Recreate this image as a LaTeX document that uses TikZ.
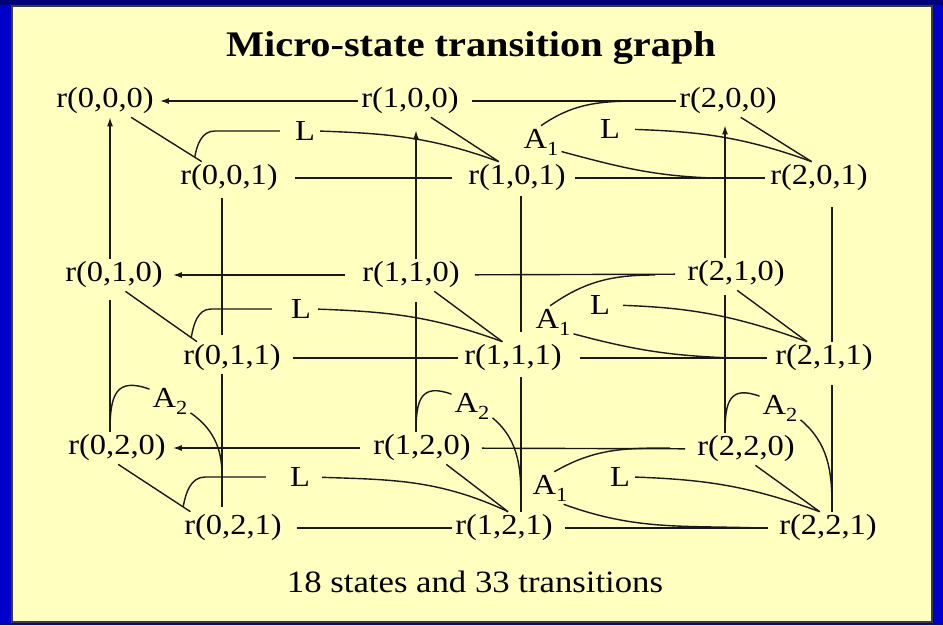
\documentclass[tikz,border=0pt]{standalone}
\usepackage{fontspec}
\setmainfont{Liberation Serif}[FakeStretch=1.12]
\usetikzlibrary{arrows.meta,calc}
\definecolor{slideblue}{RGB}{0,0,200}
\definecolor{slidenavy}{RGB}{0,0,120}
\definecolor{panelyellow}{RGB}{255,255,192}
\definecolor{panelrim}{RGB}{60,60,60}
\definecolor{ink}{RGB}{25,25,25}
\newcommand{\lsub}[1]{\raisebox{-7pt}{\fontsize{20}{20}\selectfont #1}}

\begin{document}
\begin{tikzpicture}[x=1pt,y=-1pt,>={Latex[length=9pt,width=6pt]},
        mstate/.style={font=\fontsize{29}{32}\selectfont,inner sep=3pt},
        tlabel/.style={font=\fontsize{29}{32}\selectfont,inner sep=3pt}]
    \fill[slideblue] (0,0) rectangle (943,625); \fill[slidenavy] (0,0) rectangle (943,5);
    \draw[line width=2pt, draw=panelrim, fill=panelyellow] (12,6) rectangle (932,622);
    \node[font=\bfseries\fontsize{36}{40}\selectfont] (title) at (471,48) {Micro-state transition graph};
    \node[font=\fontsize{31}{34}\selectfont] (foot) at (475,582) {18 states and 33 transitions};

    \node[mstate] (s000) at (105,101) {r(0,0,0)}; \node[mstate] (s100) at (410,101) {r(1,0,0)}; \node[mstate] (s200) at (728,101) {r(2,0,0)};
    \node[mstate] (s001) at (229,178) {r(0,0,1)}; \node[mstate] (s101) at (517,178) {r(1,0,1)}; \node[mstate] (s201) at (819,178) {r(2,0,1)};
    \node[mstate] (s010) at (114,275) {r(0,1,0)}; \node[mstate] (s110) at (411,275) {r(1,1,0)}; \node[mstate] (s210) at (736,274) {r(2,1,0)};
    \node[mstate] (s011) at (232,358) {r(0,1,1)}; \node[mstate] (s111) at (513,358) {r(1,1,1)}; \node[mstate] (s211) at (824,358) {r(2,1,1)};
    \node[mstate] (s020) at (117,448) {r(0,2,0)}; \node[mstate] (s120) at (422,448) {r(1,2,0)}; \node[mstate] (s220) at (746,449) {r(2,2,0)};
    \node[mstate] (s021) at (233,528) {r(0,2,1)}; \node[mstate] (s121) at (504,528) {r(1,2,1)}; \node[mstate] (s221) at (828,528) {r(2,2,1)};

    \node[tlabel] (Lt0) at (305,131) {L}; \node[tlabel] (Lt1) at (610,129) {L}; \node[tlabel] (At1) at (541,142) {A\lsub{1}};
    \node[tlabel] (Lm0) at (301,309) {L}; \node[tlabel] (Lm1) at (600,305) {L}; \node[tlabel] (Am1) at (553,322) {A\lsub{1}};
    \node[tlabel] (Lb0) at (300,477) {L}; \node[tlabel] (Lb1) at (620,477) {L}; \node[tlabel] (Ab1) at (550,488) {A\lsub{1}};
    \node[tlabel] (A2a) at (170,401) {A\lsub{2}}; \node[tlabel] (A2b) at (472,406) {A\lsub{2}}; \node[tlabel] (A2c) at (780,408) {A\lsub{2}};

    \coordinate (c0) at (110,0); \coordinate (c1) at (416,0); \coordinate (c2) at (725,0);
    \coordinate (e0) at (222,0); \coordinate (e1) at (521,0); \coordinate (e2) at (832,0);
    \coordinate (jt0) at (645,101); \coordinate (jt1) at (713,178); \coordinate (jm0) at (655,275); \coordinate (jm1) at (733,358); \coordinate (jb0) at (670,448); \coordinate (jb1) at (760,528);
    \coordinate (ja0) at (222,475); \coordinate (ja1) at (521,508); \coordinate (ja2) at (832,507);
    \coordinate (h0) at ($(s000.-32)!.9!(s001.149)$); \coordinate (h1) at ($(s010.-55)!.92!(s011.155)$); \coordinate (h2) at ($(s020.-86)!.9!(s021.159)$);

    \begin{scope}[line width=1.4pt, draw=ink]
        \draw[->, shorten >=3pt] (s100) -- (s000); \draw[shorten <=10pt] (s100) -- (s200); \draw[shorten <=14pt, shorten >=13pt] (s001) -- (s101); \draw[shorten <=6pt, shorten >=2pt] (s101) -- (s201);
        \draw[->, shorten <=14pt, shorten >=7pt] (s110) -- (s010); \draw[shorten <=12pt, shorten >=9pt] (s110) -- (s210); \draw[shorten <=9pt, shorten >=3pt] (s011) -- (s111); \draw[shorten <=15pt, shorten >=5pt] (s111) -- (s211);
        \draw[->, shorten <=10pt, shorten >=4pt] (s120) -- (s020); \draw[shorten <=8pt, shorten >=9pt] (s120) -- (s220); \draw[shorten <=12pt] (s021) -- (s121); \draw[shorten <=9pt, shorten >=8pt] (s121) -- (s221);

        \draw[->] (s010.north -| c0) -- (s000.south -| c0); \draw[shorten <=9pt] (s010.south -| c0) -- (s020.north -| c0);
        \draw[->, shorten >=13pt] (s110.north -| c1) -- (s100.south -| c1); \draw[shorten <=11pt] (s110.south -| c1) -- (s120.north -| c1);
        \draw[->, shorten >=8pt] (s210.north -| c2) -- (s200.south -| c2); \draw[shorten <=5pt] (s210.south -| c2) -- (s220.north -| c2);
        \draw[shorten <=4pt, shorten >=7pt] (s001.south -| e0) -- (s011.north -| e0); \draw[shorten >=5pt] (s011.south -| e0) -- (s021.north -| e0);
        \draw[shorten <=2pt, shorten >=10pt] (s101.south -| e1) -- (s111.north -| e1); \draw[shorten <=3pt] (s111.south -| e1) -- (s121.north -| e1);
        \draw[shorten <=13pt] (s201.south -| e2) -- (s211.north -| e2); \draw[shorten <=11pt] (s211.south -| e2) -- (s221.north -| e2);

        \draw (s000.-32) -- (s001.149); \draw (s100.-38) -- (s101.138); \draw (s200.-52) -- (s201.114);
        \draw (s010.-55) -- (s011.155); \draw (s110.-35) -- (s111.123); \draw (s210.-86) -- (s211.136);
        \draw (s020.-86) -- (s021.159); \draw (s120.-34) -- (s121.76); \draw (s220.-60) -- (s221.117);

        \draw[shorten <=12pt] (Lt0.west) -- ([xshift=20pt]h0 |- Lt0.west) to[out=180,in=80] (h0); \draw[shorten <=2pt] (Lt0.east) to[out=-2,in=160] (s101.138); \draw[shorten <=12pt] (Lt1.east) to[out=-2,in=160] (s201.114);
        \draw[shorten <=16pt] (Lm0.west) -- ([xshift=20pt]h1 |- Lm0.west) to[out=180,in=80] (h1); \draw[shorten <=4pt] (Lm0.east) to[out=-2,in=160] (s111.123); \draw[shorten <=10pt] (Lm1.east) to[out=-2,in=160] (s211.136);
        \draw[shorten <=21pt] (Lb0.west) -- ([xshift=22pt]h2 |- Lb0.west) to[out=180,in=80] (h2); \draw[shorten <=9pt] (Lb0.east) to[out=-2,in=155] (s121.76); \draw[shorten <=2pt] (Lb1.east) to[out=-2,in=160] (s221.117);

        \draw (At1.north) to[out=35,in=180] (jt0); \draw (At1.-25) to[out=-15,in=178] (jt1);
        \draw (Am1.100) to[out=35,in=180] (jm0); \draw (Am1.-30) to[out=-15,in=178] (jm1);
        \draw (Ab1.75) to[out=30,in=180] (jb0); \draw (Ab1.-50) to[out=-20,in=178] (jb1);

        \draw (s020.north -| c0) to[out=90,in=160,looseness=1.6] (A2a.150); \draw (A2a.-30) to[out=-35,in=90] (ja0);
        \draw (s120.north -| c1) to[out=90,in=160,looseness=1.6] (A2b.150); \draw (A2b.-30) to[out=-40,in=90] (ja1);
        \draw (s220.north -| c2) to[out=90,in=160,looseness=1.6] (A2c.150); \draw (A2c.-30) to[out=-40,in=90] (ja2);
    \end{scope}
\end{tikzpicture}
\end{document}
